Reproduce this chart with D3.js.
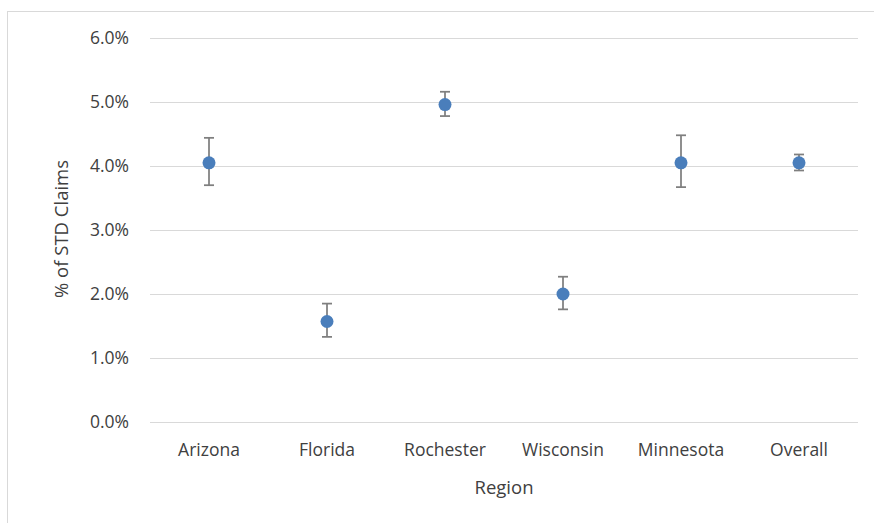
<!DOCTYPE html>
<html>
<head>
<meta charset="utf-8">
<script src="https://cdn.jsdelivr.net/npm/d3@7"></script>
<style>
  body { margin: 0; background: #fff; }
  text { font-family: "Open Sans", "Noto Sans", sans-serif; fill: #404040; }
</style>
</head>
<body>
<script>
// chart data
const regions = ['Arizona', 'Florida', 'Rochester', 'Wisconsin', 'Minnesota', 'Overall'];
const pct = [4.05, 1.57, 4.96, 2.00, 4.05, 4.05];
const errHigh = [4.44, 1.85, 5.16, 2.27, 4.48, 4.18];
const errLow = [3.70, 1.33, 4.78, 1.76, 3.67, 3.93];
const yTicks = [0, 1, 2, 3, 4, 5, 6];

const width = 874;
const height = 523;
const margin = { top: 38, right: 16, bottom: 101, left: 150 };

const svg = d3.select('body').append('svg')
  .attr('width', width)
  .attr('height', height);

// chart frame (cropped: only top and left edge show)
svg.append('rect')
  .attr('x', 7.5).attr('y', 11.5)
  .attr('width', width + 20).attr('height', height + 20)
  .attr('fill', 'none')
  .attr('stroke', '#d9d9d9')
  .attr('stroke-width', 1);

const x = d3.scaleBand()
  .domain(regions)
  .range([margin.left, width - margin.right]);

const y = d3.scaleLinear()
  .domain([0, 6])
  .range([height - margin.bottom, margin.top]);

// gridlines
svg.append('g')
  .selectAll('line')
  .data(yTicks)
  .enter().append('line')
  .attr('x1', margin.left)
  .attr('x2', width - margin.right)
  .attr('y1', d => Math.round(y(d)) + 0.5)
  .attr('y2', d => Math.round(y(d)) + 0.5)
  .attr('stroke', '#d9d9d9')
  .attr('stroke-width', 1);

// y axis labels
const yAxis = d3.axisLeft(y)
  .tickValues(yTicks)
  .tickFormat(d => d.toFixed(1) + '%')
  .tickSize(0)
  .tickPadding(21);

svg.append('g')
  .attr('transform', `translate(${margin.left},0)`)
  .call(yAxis)
  .call(g => g.select('.domain').remove())
  .selectAll('text')
  .style('font-size', '17.5px')
  .attr('fill', '#404040');

// x axis labels
const xAxis = d3.axisBottom(x).tickSize(0).tickPadding(22);

svg.append('g')
  .attr('transform', `translate(0,${height - margin.bottom})`)
  .call(xAxis)
  .call(g => g.select('.domain').remove())
  .selectAll('text')
  .style('font-size', '17.5px')
  .attr('fill', '#404040');

// error bars
const bars = svg.append('g')
  .attr('class', 'errors')
  .selectAll('g')
  .data(regions)
  .enter().append('g')
  .attr('stroke', '#7f7f7f')
  .attr('stroke-width', 1.75);

bars.append('line')
  .attr('x1', d => x(d) + x.bandwidth() / 2)
  .attr('x2', d => x(d) + x.bandwidth() / 2)
  .attr('y1', (d, i) => y(errHigh[i]))
  .attr('y2', (d, i) => y(errLow[i]));

bars.append('line')
  .attr('x1', d => x(d) + x.bandwidth() / 2 - 5)
  .attr('x2', d => x(d) + x.bandwidth() / 2 + 5)
  .attr('y1', (d, i) => y(errHigh[i]))
  .attr('y2', (d, i) => y(errHigh[i]));

bars.append('line')
  .attr('x1', d => x(d) + x.bandwidth() / 2 - 5)
  .attr('x2', d => x(d) + x.bandwidth() / 2 + 5)
  .attr('y1', (d, i) => y(errLow[i]))
  .attr('y2', (d, i) => y(errLow[i]));

// points
svg.append('g')
  .attr('class', 'points')
  .selectAll('circle')
  .data(regions)
  .enter().append('circle')
  .attr('cx', d => x(d) + x.bandwidth() / 2)
  .attr('cy', (d, i) => y(pct[i]))
  .attr('r', 6.5)
  .attr('fill', '#4a7ebb');

// axis titles
svg.append('text')
  .attr('x', (margin.left + width - margin.right) / 2)
  .attr('y', 494)
  .attr('text-anchor', 'middle')
  .style('font-size', '18.5px')
  .text('Region');

svg.append('text')
  .attr('transform', 'translate(68,229) rotate(-90)')
  .attr('text-anchor', 'middle')
  .style('font-size', '18.5px')
  .text('% of STD Claims');
</script>
</body>
</html>
